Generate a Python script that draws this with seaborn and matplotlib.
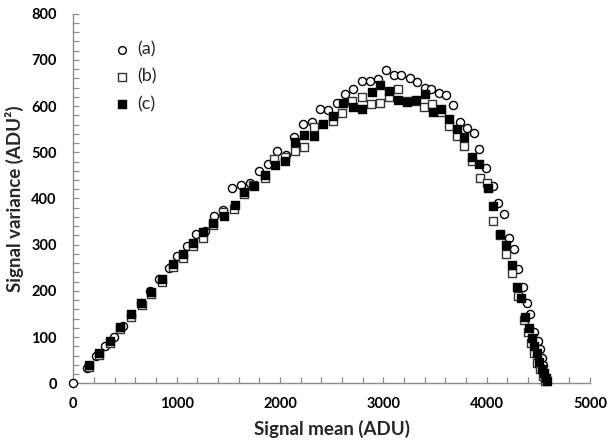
import matplotlib
matplotlib.use("Agg")
import matplotlib.pyplot as plt
from matplotlib.ticker import MultipleLocator
import pandas as pd
import seaborn as sns

# series (a) - open circles
mean_a = [0, 129, 219, 306, 396, 483, 557, 654, 741, 831, 928, 1005, 1096, 1186, 1272,
          1359, 1449, 1540, 1627, 1714, 1797, 1884, 1971, 2055, 2135, 2219, 2306, 2384,
          2461, 2548, 2625, 2702, 2789, 2866, 2944, 3021, 3099, 3173, 3253, 3324, 3398,
          3463, 3536, 3608, 3678, 3743, 3807, 3874, 3929, 3994, 4058, 4113, 4164, 4213,
          4268, 4300, 4348, 4390, 4419, 4461, 4493, 4516, 4530, 4540, 4548, 4555, 4560]
var_a = [0, 34, 59, 80, 101, 124, 148, 173, 200, 225, 249, 276, 297, 323, 330,
         362, 374, 422, 429, 434, 460, 474, 503, 494, 534, 561, 566, 594,
         592, 607, 626, 637, 654, 654, 658, 678, 667, 667, 660, 651, 638,
         636, 629, 624, 602, 566, 552, 542, 506, 465, 426, 391, 366, 315,
         290, 247, 209, 173, 149, 112, 92, 74, 55, 40, 27, 17, 8]

# series (b) - open squares
mean_b = [150, 250, 352, 448, 555, 661, 752, 860, 960, 1057, 1160, 1256, 1356, 1449,
          1553, 1650, 1740, 1852, 1939, 2046, 2142, 2232, 2326, 2513, 2603, 2700, 2793,
          2876, 2970, 3054, 3141, 3230, 3310, 3388, 3473, 3559, 3633, 3710, 3784, 3859,
          3936, 4000, 4065, 4130, 4188, 4242, 4300, 4364, 4400, 4429, 4460, 4490, 4515,
          4540, 4560]
var_b = [36, 62, 88, 118, 144, 169, 193, 220, 252, 272, 298, 315, 342, 370,
         377, 410, 429, 444, 485, 490, 503, 511, 555, 567, 586, 611, 620,
         604, 606, 619, 636, 612, 610, 599, 605, 588, 556, 535, 513, 482,
         445, 434, 351, 320, 280, 239, 190, 137, 110, 87, 65, 45, 30,
         15, 6]

# series (c) - filled squares
mean_c = [152, 251, 355, 451, 557, 654, 751, 860, 960, 1057, 1154, 1256, 1353, 1456,
          1563, 1650, 1746, 1853, 1949, 2046, 2142, 2232, 2326, 2412, 2509, 2605, 2702,
          2789, 2886, 2963, 3050, 3137, 3224, 3311, 3398, 3478, 3553, 3633, 3710, 3784,
          3859, 3929, 4010, 4062, 4130, 4184, 4243, 4290, 4332, 4374, 4413, 4439, 4461,
          4483, 4509, 4535, 4557, 4577, 4587]
var_c = [40, 66, 92, 121, 149, 174, 197, 225, 258, 280, 303, 328, 346, 362,
         386, 415, 427, 451, 472, 482, 523, 537, 535, 561, 579, 607, 598,
         594, 631, 646, 633, 613, 609, 613, 626, 588, 593, 571, 551, 533,
         490, 475, 423, 384, 324, 299, 256, 209, 184, 144, 119, 97, 81,
         65, 47, 32, 22, 11, 5]

labels = ["(a)", "(b)", "(c)"]

df = pd.concat([
    pd.DataFrame({"mean": mean_a, "var": var_a, "set": labels[0]}),
    pd.DataFrame({"mean": mean_b, "var": var_b, "set": labels[1]}),
    pd.DataFrame({"mean": mean_c, "var": var_c, "set": labels[2]}),
])

sns.set_style("ticks")
plt.rcParams["font.family"] = ["Lato", "DejaVu Sans"]

fig = plt.figure(figsize=(6.16, 4.47), dpi=100)
ax = fig.add_axes([0.119, 0.1425, 0.839, 0.827])

styles = {
    "(a)": dict(marker="o", facecolor="white", edgecolor="black", s=34),
    "(b)": dict(marker="s", facecolor="white", edgecolor="#333333", s=32),
    "(c)": dict(marker="s", facecolor="black", edgecolor="black", s=32),
}
for lab in labels:
    st = styles[lab]
    sns.scatterplot(data=df[df["set"] == lab], x="mean", y="var", ax=ax,
                    marker=st["marker"], color=st["facecolor"], edgecolor=st["edgecolor"],
                    s=st["s"], linewidth=1.0, label=lab, clip_on=False, zorder=3)

ax.set_xlim(0, 5000)
ax.set_ylim(0, 800)
ax.xaxis.set_major_locator(MultipleLocator(1000))
ax.xaxis.set_minor_locator(MultipleLocator(200))
ax.yaxis.set_major_locator(MultipleLocator(100))
ax.yaxis.set_minor_locator(MultipleLocator(20))

for side in ["top", "right"]:
    ax.spines[side].set_visible(False)
for side in ["left", "bottom"]:
    ax.spines[side].set_color("#8c8c8c")
    ax.spines[side].set_linewidth(1.0)

ax.tick_params(which="both", direction="in", length=4, width=0.9, color="#8c8c8c",
               labelsize=10.5, labelcolor="black")
ax.tick_params(axis="x", pad=10)
ax.tick_params(axis="y", pad=12)
for t in ax.get_xticklabels() + ax.get_yticklabels():
    t.set_fontweight("bold")

ax.set_xlabel("Signal mean (ADU)", fontsize=13.5, fontweight="bold", labelpad=6)
ax.set_ylabel("Signal variance (ADU²)", fontsize=13.5, fontweight="bold", labelpad=5)

ax.legend(loc="upper left", bbox_to_anchor=(0.066, 0.945), frameon=False, fontsize=13,
          handlelength=0.8, handletextpad=0.45, labelspacing=0.62, borderaxespad=0,
          markerscale=0.95)

fig.savefig("out.png", dpi=100)
